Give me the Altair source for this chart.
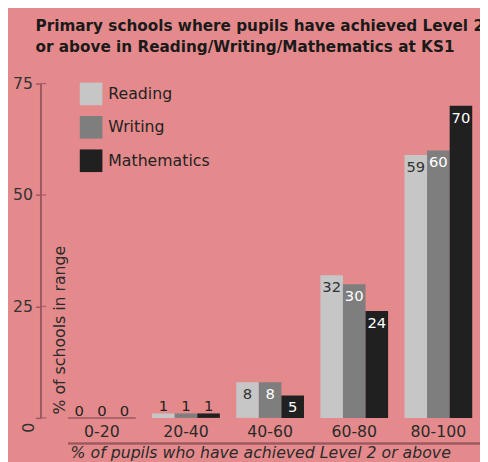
import altair as alt
import pandas as pd

# ---- data ----
groups = ["0-20", "20-40", "40-60", "60-80", "80-100"]
series = ["Reading", "Writing", "Mathematics"]
reading = [0, 1, 8, 32, 59]
writing = [0, 1, 8, 30, 60]
mathematics = [0, 1, 5, 24, 70]
y_ticks = [0, 25, 50, 75]

title_lines = [
    "Primary schools where pupils have achieved Level 2",
    "or above in Reading/Writing/Mathematics at KS1",
]
x_title = "% of pupils who have achieved Level 2 or above"
y_title = "% of schools in range"

colors = ["#C6C6C6", "#7E7E7E", "#202020"]
FONT = "DejaVu Sans"
PINK = "#E58A8C"
AXIS_RED = "#9C5862"

rows = []
for name, vals in zip(series, [reading, writing, mathematics]):
    for g, v in zip(groups, vals):
        rows.append({"group": g, "series": name, "value": v})
df = pd.DataFrame(rows)
ticks_df = pd.DataFrame({"tick": y_ticks})

x_enc = alt.X(
    "group:N",
    sort=groups,
    scale=alt.Scale(paddingInner=0.195, paddingOuter=0.21, align=0.78),
    axis=alt.Axis(
        title=x_title,
        labelAngle=0,
        labelFont=FONT,
        labelFontSize=16,
        labelColor="#2a2a2a",
        labelPadding=6,
        ticks=False,
        tickSize=0,
        domain=False,
        titleFont=FONT,
        titleFontSize=16,
        titleFontStyle="italic",
        titleFontWeight="normal",
        titleColor="#2a2a2a",
        titlePadding=5,
    ),
)
xoff = alt.XOffset("series:N", sort=series, scale=alt.Scale(paddingInner=0, paddingOuter=0))
y_scale = alt.Scale(domain=[0, 75], nice=False, zero=True)

base = alt.Chart(df)

bars = base.mark_bar(strokeWidth=1.5).encode(
    x=x_enc,
    xOffset=xoff,
    y=alt.Y(
        "value:Q",
        scale=y_scale,
        axis=alt.Axis(
            values=y_ticks,
            grid=False,
            domainColor=AXIS_RED,
            domainWidth=2,
            tickColor=AXIS_RED,
            tickSize=5,
            tickWidth=1.5,
            labelFont=FONT,
            labelFontSize=16,
            labelColor="#333333",
            labelPadding=3,
            labelExpr="datum.value === 0 ? '' : datum.label",
            title=y_title,
            titleFont=FONT,
            titleFontSize=16,
            titleFontWeight="normal",
            titleColor="#2a2a2a",
            titleAngle=270,
            titleAlign="left",
            titleBaseline="middle",
            titleX=19,
            titleY=336,
        ),
    ),
    color=alt.Color(
        "series:N",
        sort=series,
        scale=alt.Scale(domain=series, range=colors),
        legend=alt.Legend(
            title=None,
            orient="none",
            legendX=40,
            legendY=-1,
            symbolType="square",
            symbolSize=529,
            symbolStrokeWidth=0,
            symbolOpacity=1,
            labelFont=FONT,
            labelFontSize=16,
            labelColor="#222222",
            labelOffset=6,
            rowPadding=11,
            padding=0,
        ),
    ),
    stroke=alt.condition(alt.datum.value == 0, alt.value(AXIS_RED), alt.value("transparent")),
)

inside = base.transform_filter(alt.datum.value >= 5).mark_text(
    baseline="top", dy=5, font=FONT, fontSize=15
).encode(
    x=alt.X("group:N", sort=groups),
    xOffset=xoff,
    y=alt.Y("value:Q", scale=y_scale),
    text="value:Q",
    color=alt.condition(alt.datum.series == "Reading", alt.value("#333333"), alt.value("#FFFFFF")),
)

outside = base.transform_filter(alt.datum.value < 5).mark_text(
    baseline="alphabetic", dy=-2, font=FONT, fontSize=15, color="#222222"
).encode(
    x=alt.X("group:N", sort=groups),
    xOffset=xoff,
    y=alt.Y("value:Q", scale=y_scale),
    text="value:Q",
)

cross_ticks = alt.Chart(ticks_df).mark_tick(
    orient="horizontal", size=6, thickness=1.5, color=AXIS_RED
).encode(
    y=alt.Y("tick:Q", scale=y_scale),
    x=alt.value(3),
)

# the zero label of the y axis is drawn turned on its side in the reference
zero_label = alt.Chart(ticks_df).transform_filter(alt.datum.tick == 0).mark_text(
    angle=270, align="right", baseline="middle", dx=-5, font=FONT, fontSize=16, color="#333333"
).encode(
    y=alt.Y("tick:Q", scale=y_scale),
    x=alt.value(-12),
    text="tick:Q",
)

under_rule = alt.Chart(ticks_df).mark_rule(color=AXIS_RED, strokeWidth=1.5).encode(
    x=alt.value(28), x2=alt.value(447), y=alt.value(366)
)

chart = (
    alt.layer(bars, inside, outside, cross_ticks, zero_label, under_rule)
    .properties(
        width=447,
        height=340,
        autosize=alt.AutoSizeParams(type="none"),
        padding={"left": 33, "top": 73, "right": 0, "bottom": 41},
        background=PINK,
        title=alt.TitleParams(
            text=title_lines,
            anchor="start",
            frame="group",
            dx=-5,
            offset=21,
            font=FONT,
            fontSize=15.5,
            fontWeight="bold",
            color="#1a1a1a",
            lineHeight=21,
        ),
    )
    .configure_view(strokeWidth=0)
)

chart.save("out.html", embed_options={"renderer": "svg", "actions": False})
